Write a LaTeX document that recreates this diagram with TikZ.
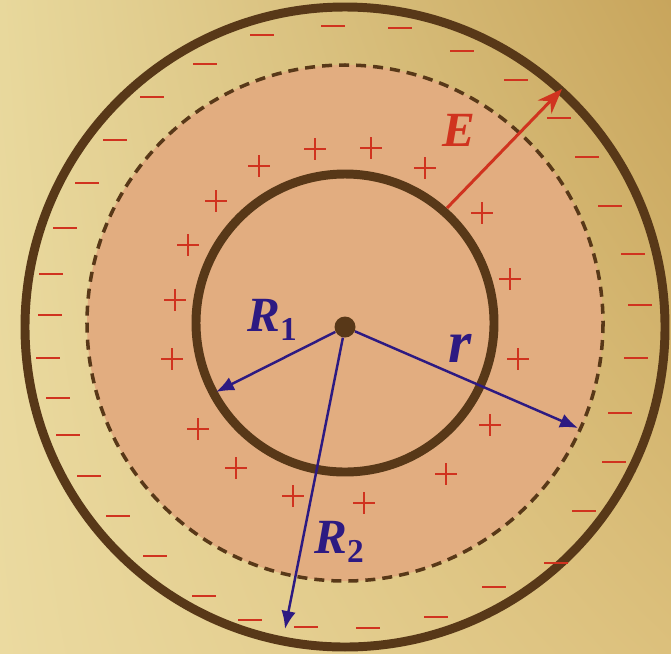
\documentclass[tikz,border=0pt]{standalone}
\usepackage{fontspec}
\setmainfont{Liberation Serif}
\usetikzlibrary{arrows.meta,shadings}
\definecolor{paperUL}{HTML}{E8D89C}
\definecolor{paperUR}{HTML}{C8A55C}
\definecolor{paperLL}{HTML}{EBDAA0}
\definecolor{paperLR}{HTML}{DCC07C}
\definecolor{disk}{HTML}{E2AD80}
\definecolor{shell}{HTML}{583818}
\definecolor{chg}{HTML}{D0331F}
\definecolor{rad}{HTML}{2D1A82}

\begin{document}
\begin{tikzpicture}[x=0.02cm,y=-0.02cm,
  shellline/.style={draw=shell,line width=5.1pt},
  charge/.style={draw=chg,line width=1.4pt},
  radius/.style={draw=rad,line width=1.4pt,-{Latex[length=3.6mm,width=2.9mm]}},
  lbl/.style={font=\fontsize{28}{30}\selectfont\bfseries\itshape,inner sep=0pt}]
\useasboundingbox (0,0) rectangle (671,653);
\shade[upper left=paperUL,upper right=paperUR,lower left=paperLL,lower right=paperLR]
  (0,0) rectangle (671,653);

% gaussian surface and the two shells
\fill[disk] (345,323) circle (258);
\draw[draw=shell,line width=2pt,dash pattern=on 5.7pt off 4pt] (345,323) circle (258);
\draw[shellline] (345,323) circle (149);
\draw[shellline] (345,327) circle (320);

% charges
\foreach \x/\y in {315/149,371/148,259/166,425/168,216/201,482/213,188/245,510/279,
  175/300,518/359,172/359,490/425,198/429,446/474,236/468,293/496,364/503}
  \draw[charge] ({\x-11},\y) -- ({\x+11},\y) (\x,{\y-11}) -- (\x,{\y+11});
\foreach \x/\y in {333/26,400/28,262/35,205/64,462/51,152/97,516/80,559/118,115/140,
  587/157,87/183,610/206,65/228,633/254,51/274,640/305,50/315,636/358,48/358,
  620/413,58/398,614/462,68/435,584/511,89/476,556/563,118/516,494/587,155/556,
  436/617,204/596,368/628,250/620,306/627}
  \draw[charge] ({\x-12},\y) -- ({\x+12},\y);

% centre and radii
\node[circle,fill=shell,inner sep=0pt,minimum size=0.42cm] (O) at (345,327) {};
\coordinate (tipR1) at (216,392);
\coordinate (tipR2) at (285,629);
\coordinate (tipr) at (578,428);
\draw[radius] (O) -- (tipR1);
\draw[radius] (O) -- (tipR2);
\draw[radius] (O) -- (tipr);

% field
\coordinate (Estart) at (447,208);
\coordinate (Etip) at (562,89);
\draw[draw=chg,line width=1.7pt,-{Stealth[length=5mm,width=3.8mm]}] (Estart) -- (Etip);

% labels
\node[lbl,text=rad] (lR1) at (272,320) {R\raisebox{-5pt}{\fontsize{19}{20}\selectfont\upshape 1}};
\node[lbl,text=rad] (lR2) at (339,542) {R\raisebox{-5pt}{\fontsize{19}{20}\selectfont\upshape 2}};
\node[lbl,text=rad,font=\fontsize{34}{36}\selectfont\bfseries\itshape] (lr) at (460,348) {r};
\node[lbl,text=chg] (lE) at (459,130) {E};
\end{tikzpicture}
\end{document}
